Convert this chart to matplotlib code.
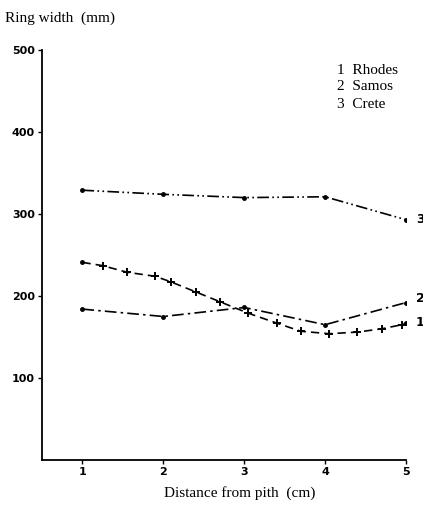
import numpy as np
import matplotlib
matplotlib.use("Agg")
import matplotlib.pyplot as plt

# distance from pith (cm)
dist = [1, 2, 3, 4, 5]
crete = [329, 324, 320, 321, 293]
samos = [184, 175, 186, 165, 192]

# Rhodes measured at finer steps
rhodes_x = [1, 1.25, 1.55, 1.9, 2.1, 2.4, 2.7, 3.05, 3.4, 3.7, 4.05, 4.4, 4.7, 4.95, 5.0]
rhodes_y = [241, 237, 229, 224, 217, 205, 193, 179, 167, 157, 154, 156, 160, 165, 167]

yticks = [100, 200, 300, 400, 500]
legend_lines = ["1  Rhodes", "2  Samos", "3  Crete"]

serif = "Liberation Serif"

fig = plt.figure(figsize=(4.23, 5.13), dpi=100)
ax = fig.add_axes([42 / 423, 1 - 460 / 513, (406 - 42) / 423, (460 - 50) / 513])

ax.plot(dist, crete, color="black", lw=1.2, ls=(0, (7, 2, 1, 2, 1, 2)),
        marker="o", ms=2.5)
ax.plot(dist, samos, color="black", lw=1.2, ls=(0, (7, 2.5, 1.5, 2.5)),
        marker="o", ms=2.5)
ax.plot(rhodes_x, rhodes_y, color="black", lw=1.2, ls=(0, (5, 3)),
        marker="+", ms=5.5, mew=1.4, markevery=list(range(1, len(rhodes_x) - 1)))
ax.plot([rhodes_x[0], rhodes_x[-1]], [rhodes_y[0], rhodes_y[-1]], ls="none",
        marker="o", ms=2.5, color="black")

ax.set_xlim(0.5, 5.0)
ax.set_ylim(0, 500)
ax.set_xticks(dist)
ax.set_yticks(yticks)
ax.tick_params(labelsize=8, length=3, width=1, pad=2)
for lab in ax.get_xticklabels() + ax.get_yticklabels():
    lab.set_fontweight("bold")
for s in ["top", "right"]:
    ax.spines[s].set_visible(False)
ax.spines["left"].set_linewidth(1.3)
ax.spines["bottom"].set_linewidth(1.3)

# series labels at right end
ax.text(5.12, crete[-1], "3", fontsize=9, fontweight="bold", va="center")
ax.text(5.12, samos[-1] + 5, "2", fontsize=9, fontweight="bold", va="center")
ax.text(5.12, 168, "1", fontsize=9, fontweight="bold", va="center")
for i, t in enumerate(legend_lines):
    fig.text(337 / 423, 1 - (70 + 17 * i) / 513, t, family=serif,
             fontsize=11, va="center")

fig.text(5 / 423, 1 - 18 / 513, "Ring width  (mm)", family=serif,
         fontsize=11, va="center")
fig.text(240 / 423, 1 - 493 / 513, "Distance from pith  (cm)", family=serif,
         fontsize=11, va="center", ha="center")

fig.savefig("out.png", dpi=100)
